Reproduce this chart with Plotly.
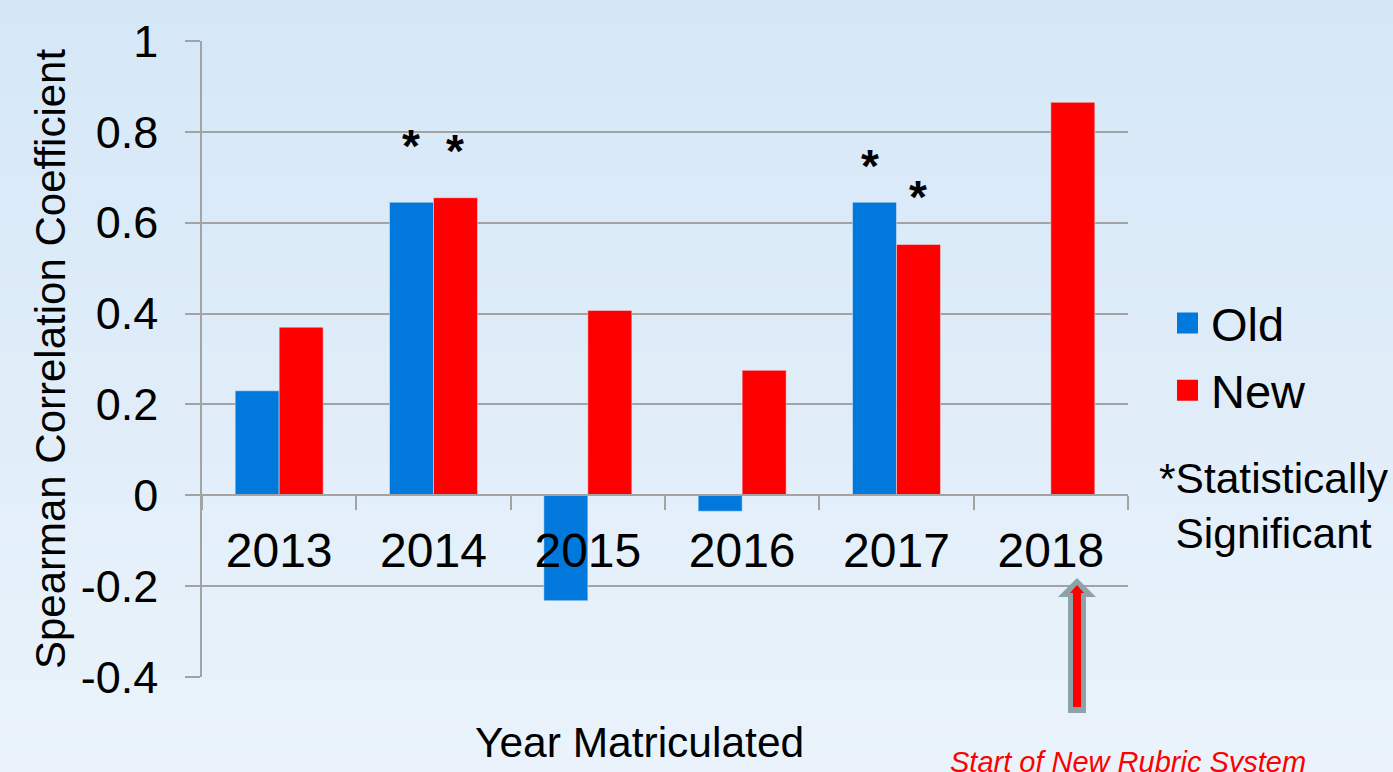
import plotly.graph_objects as go

# ---------------- data ----------------
years = ["2013", "2014", "2015", "2016", "2017", "2018"]
old_vals = [0.23, 0.645, -0.232, -0.035, 0.645, None]
new_vals = [0.37, 0.655, 0.407, 0.275, 0.552, 0.865]
old_sig = [False, True, False, False, True, False]
new_sig = [False, True, False, False, True, False]
y_tickvals = [-0.4, -0.2, 0, 0.2, 0.4, 0.6, 0.8, 1]
y_ticktext = ["-0.4", "-0.2", "0", "0.2", "0.4", "0.6", "0.8", "1"]
y_range = [-0.4, 1.0]

BLUE = "#0078dc"
RED = "#ff0000"
GRID = "#a3a3a3"
FONT = "Liberation Sans, Arial, sans-serif"

W_FIG, H_FIG = 1393, 772
L, R, T, B = 202, 265, 41, 95
PW = W_FIG - L - R
PH = H_FIG - T - B
BARGAP = 0.43


def px(xp):
    return (xp - L) / PW


def py(yp):
    return (T + PH - yp) / PH


fig = go.Figure()
fig.add_trace(go.Bar(x=years, y=old_vals, name="Old", marker_color=BLUE,
                     showlegend=False))
fig.add_trace(go.Bar(x=years, y=new_vals, name="New", marker_color=RED,
                     showlegend=False))
# legend entries with larger square swatches
for nm, col, grp in [("Old", BLUE, "a"), ("New", RED, "b")]:
    fig.add_trace(go.Scatter(x=[years[0]], y=[None], mode="markers", name=nm,
                             legendgroup=grp, hoverinfo="skip",
                             marker=dict(symbol="square", size=16, color=col,
                                         line=dict(color=col, width=5))))

# ---------------- background gradient ----------------
top_c = (213, 231, 247)
bot_c = (234, 243, 251)
n_bands = 40
y_top = py(0)
y_bot = py(H_FIG)
shapes = []
for i in range(n_bands):
    f = i / (n_bands - 1)
    c = tuple(round(top_c[k] + (bot_c[k] - top_c[k]) * f) for k in range(3))
    y0 = y_top + (y_bot - y_top) * i / n_bands
    y1 = y_top + (y_bot - y_top) * (i + 1) / n_bands
    shapes.append(dict(type="rect", xref="paper", yref="paper",
                       x0=px(0), x1=px(W_FIG), y0=y0, y1=y1 - 0.002,
                       fillcolor="rgb(%d,%d,%d)" % c, line_width=0,
                       layer="below"))

# ---------------- arrow (start of new rubric) ----------------
ax_c = 1077
arrow_pts = [(ax_c, 578), (ax_c + 19, 597), (ax_c + 9, 597), (ax_c + 9, 713),
             (ax_c - 9, 713), (ax_c - 9, 597), (ax_c - 19, 597)]
path = "M " + " L ".join("%.5f,%.5f" % (px(a), py(b)) for a, b in arrow_pts) + " Z"
shapes.append(dict(type="path", xref="paper", yref="paper", path=path,
                   fillcolor="#8ea3a7", line_width=0, layer="above"))
shapes.append(dict(type="line", xref="paper", yref="paper",
                   x0=px(ax_c), x1=px(ax_c), y0=py(707), y1=py(591),
                   line=dict(color=RED, width=8), layer="above"))
red_head = [(ax_c, 585), (ax_c + 7, 593), (ax_c - 7, 593)]
path2 = "M " + " L ".join("%.5f,%.5f" % (px(a), py(b)) for a, b in red_head) + " Z"
shapes.append(dict(type="path", xref="paper", yref="paper", path=path2,
                   fillcolor=RED, line_width=0, layer="above"))

# ---------------- annotations ----------------
annotations = []
bar_off = (1 - BARGAP) / 2 * PW / len(years) / 2
star_shift = iter([56, 47, 36, 48])
star_dx = iter([-1, 0, -5, 0])
for i, yr in enumerate(years):
    for vals, sig, sgn in [(old_vals, old_sig, -1), (new_vals, new_sig, 1)]:
        if sig[i] and vals[i] is not None:
            annotations.append(dict(x=i, y=vals[i], xref="x", yref="y",
                                    text="<b>*</b>", showarrow=False,
                                    xshift=sgn * bar_off + next(star_dx),
                                    yshift=next(star_shift),
                                    yanchor="middle",
                                    font=dict(family=FONT, size=46, color="black")))

annotations.append(dict(x=px(639), y=py(742), xref="paper", yref="paper",
                        text="Year Matriculated", showarrow=False,
                        xanchor="center", yanchor="middle",
                        font=dict(family=FONT, size=42.5, color="black")))
annotations.append(dict(x=px(1274), y=py(506), xref="paper", yref="paper",
                        text="*Statistically<br>Significant", showarrow=False,
                        xanchor="center", yanchor="middle", align="center",
                        font=dict(family=FONT, size=42.5, color="black")))
annotations.append(dict(x=px(948), y=py(762), xref="paper", yref="paper",
                        text="<i>Start of New Rubric System</i>", showarrow=False,
                        xanchor="left", yanchor="middle",
                        font=dict(family=FONT, size=29, color=RED)))

zero_pos = (0 - y_range[0]) / (y_range[1] - y_range[0])

fig.update_layout(
    width=W_FIG, height=H_FIG,
    margin=dict(l=L, r=R, t=T, b=B, autoexpand=False),
    paper_bgcolor="rgb(222,236,249)",
    plot_bgcolor="rgba(0,0,0,0)",
    barmode="group", bargap=BARGAP, bargroupgap=0,
    font=dict(family=FONT, color="black"),
    shapes=shapes,
    annotations=annotations,
    legend=dict(x=px(1164), y=py(286), xanchor="left", yanchor="top",
                bgcolor="rgba(0,0,0,0)", traceorder="grouped",
                tracegroupgap=3, itemwidth=37,
                font=dict(family=FONT, size=47, color="black")),
    xaxis=dict(type="category", categoryorder="array", categoryarray=years,
               range=[-0.5, len(years) - 0.5],
               anchor="free", position=zero_pos,
               showline=True, linecolor=GRID, linewidth=1.5,
               ticks="outside", tickson="boundaries", ticklen=14,
               tickcolor=GRID, tickwidth=1.5, ticklabelstandoff=13,
               showgrid=False, tickangle=0,
               tickfont=dict(family=FONT, size=48, color="black")),
    yaxis=dict(range=y_range, tickvals=y_tickvals, ticktext=y_ticktext,
               showline=True, linecolor=GRID, linewidth=1.5,
               ticks="outside", ticklen=15, tickcolor=GRID, tickwidth=1.5,
               ticklabelstandoff=18,
               showgrid=True, gridcolor=GRID, gridwidth=1.5,
               zeroline=False,
               tickfont=dict(family=FONT, size=45, color="black"),
               title=dict(text="Spearman Correlation Coefficient",
                          font=dict(family=FONT, size=42, color="black"),
                          standoff=2)),
)

fig.write_html("out.html", config={"displayModeBar": False},
               post_script="document.body.style.margin='0';"
                           "document.body.style.overflow='hidden';")
